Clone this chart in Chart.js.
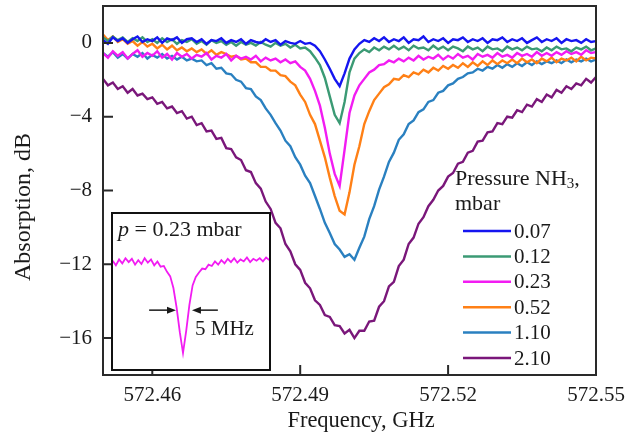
<!DOCTYPE html>
<html lang="en">
<head>
<meta charset="UTF-8">
<title>NH3 absorption line</title>
<script src="https://cdn.jsdelivr.net/npm/chart.js"></script>
<style>
  body { margin: 0; background: #fff; }
  #wrap { position: relative; width: 637px; height: 437px; }
  #inset { position: absolute; left: 111px; top: 212px; width: 156px; height: 155px;
           border: 2px solid #111; background: #fff; }
  canvas { display: block; }
</style>
</head>
<body>
<div id="wrap">
  <canvas id="mainChart" width="637" height="437"></canvas>
  <div id="inset"><canvas id="insetChart" width="156" height="155"></canvas></div>
</div>
<script>
// frequency grid, GHz
const freq = [
  572.450, 572.451, 572.452, 572.453, 572.454, 572.455, 572.456, 572.457, 572.458, 572.459,
  572.460, 572.461, 572.462, 572.463, 572.464, 572.465, 572.466, 572.467, 572.468, 572.469,
  572.470, 572.471, 572.472, 572.473, 572.474, 572.475, 572.476, 572.477, 572.478, 572.479,
  572.480, 572.481, 572.482, 572.483, 572.484, 572.485, 572.486, 572.487, 572.488, 572.489,
  572.490, 572.491, 572.492, 572.493, 572.494, 572.495, 572.496, 572.497, 572.498, 572.499,
  572.500, 572.501, 572.502, 572.503, 572.504, 572.505, 572.506, 572.507, 572.508, 572.509,
  572.510, 572.511, 572.512, 572.513, 572.514, 572.515, 572.516, 572.517, 572.518, 572.519,
  572.520, 572.521, 572.522, 572.523, 572.524, 572.525, 572.526, 572.527, 572.528, 572.529,
  572.530, 572.531, 572.532, 572.533, 572.534, 572.535, 572.536, 572.537, 572.538, 572.539,
  572.540, 572.541, 572.542, 572.543, 572.544, 572.545, 572.546, 572.547, 572.548, 572.549,
  572.550
];

// absorption, dB
const p007 = [
  0.15, -0.05, 0.3, 0.1, 0.25, 0.0, 0.2, 0.35, 0.05, 0.2,
  0.1, 0.3, 0.0, 0.25, 0.15, 0.3, 0.0, 0.2, 0.25, 0.05,
  0.2, -0.05, 0.15, 0.1, 0.25, 0.0, 0.15, 0.05, 0.2, -0.05,
  0.15, 0.05, 0.0, 0.2, 0.05, 0.15, -0.1, 0.1, 0.0, -0.05,
  0.1, -0.05, 0.0, -0.15, -0.45, -0.9, -1.4, -1.95, -2.35, -1.65,
  -0.85, -0.35, -0.05, 0.15, 0.05, 0.25, 0.1, 0.3, 0.05, 0.2,
  0.1, 0.3, 0.0, 0.2, 0.15, 0.35, 0.05, 0.2, 0.1, 0.25,
  0.0, 0.2, 0.15, 0.3, 0.05, 0.2, 0.1, 0.25, 0.0, 0.2,
  0.15, 0.3, 0.05, 0.2, 0.1, 0.25, 0.0, 0.15, 0.3, 0.05,
  0.2, 0.1, 0.25, 0.0, 0.2, 0.1, 0.15, 0.0, 0.2, 0.05,
  0.1
];
const p012 = [
  0.3, 0.1, 0.35, 0.15, 0.3, 0.05, 0.25, 0.1, 0.3, 0.05,
  0.2, 0.0, 0.25, 0.05, 0.2, -0.05, 0.15, 0.05, 0.2, -0.05,
  0.1, -0.1, 0.15, 0.0, 0.1, -0.1, 0.05, -0.15, 0.05, -0.1,
  0.0, -0.15, 0.05, -0.1, -0.2, 0.0, -0.15, -0.05, -0.25, -0.1,
  -0.3, -0.25, -0.45, -0.8, -1.2, -1.9, -2.9, -3.9, -4.35, -3.2,
  -1.6, -0.85, -0.55, -0.35, -0.5, -0.25, -0.4, -0.2, -0.35, -0.15,
  -0.35, -0.2, -0.4, -0.15, -0.3, -0.25, -0.4, -0.15, -0.35, -0.2,
  -0.4, -0.2, -0.3, -0.45, -0.2, -0.35, -0.25, -0.45, -0.2, -0.35,
  -0.3, -0.45, -0.2, -0.35, -0.25, -0.4, -0.2, -0.35, -0.3, -0.45,
  -0.25, -0.4, -0.2, -0.35, -0.3, -0.45, -0.25, -0.35, -0.2, -0.4,
  -0.3
];
const p023 = [
  -0.55, -0.8, -0.45, -0.7, -0.5, -0.85, -0.6, -0.4, -0.75, -0.55,
  -0.7, -0.45, -0.8, -0.6, -0.9, -0.55, -0.75, -0.6, -0.85, -0.65,
  -0.75, -0.55, -0.9, -0.7, -0.8, -0.6, -0.95, -0.7, -0.85, -0.75,
  -0.9, -0.7, -1.0, -0.8, -0.95, -0.85, -1.05, -0.9, -1.1, -1.0,
  -1.3, -1.5, -1.95, -2.6, -3.4, -4.6, -6.0, -7.1, -7.75, -5.8,
  -3.8, -2.85, -2.3, -1.95, -1.6, -1.45, -1.2, -1.15, -0.95, -1.05,
  -0.85, -1.0, -0.8, -0.95, -0.7, -0.9, -0.75, -0.85, -0.65, -0.9,
  -0.7, -0.85, -0.6, -0.8, -0.7, -0.9, -0.6, -0.75, -0.65, -0.8,
  -0.55, -0.75, -0.65, -0.8, -0.55, -0.7, -0.6, -0.75, -0.5, -0.7,
  -0.55, -0.7, -0.5, -0.65, -0.45, -0.6, -0.5, -0.65, -0.4, -0.55,
  -0.5
];
const p052 = [
  0.45, 0.15, 0.35, 0.05, 0.2, -0.05, 0.1, -0.15, 0.05, -0.2,
  -0.05, -0.3, -0.1, -0.35, -0.15, -0.4, -0.25, -0.45, -0.3, -0.5,
  -0.35, -0.6, -0.4, -0.65, -0.5, -0.6, -0.75, -0.7, -0.9, -0.85,
  -1.05, -1.05, -1.3, -1.3, -1.5, -1.5, -1.75, -1.8, -2.1, -2.3,
  -2.8, -3.2, -3.9, -4.4, -5.3, -6.2, -7.3, -8.3, -9.1, -9.3,
  -8.1, -6.6, -5.6, -4.4, -3.7, -3.1, -2.75, -2.4, -2.25, -1.95,
  -2.0, -1.75, -1.85, -1.6, -1.7, -1.45, -1.6, -1.35, -1.5, -1.25,
  -1.4, -1.2, -1.35, -1.1, -1.3, -1.05, -1.25, -1.0, -1.2, -0.95,
  -1.15, -0.95, -1.1, -0.9, -1.1, -0.85, -1.05, -0.9, -1.1, -0.85,
  -1.0, -0.8, -1.05, -0.85, -0.95, -0.8, -1.0, -0.75, -0.95, -0.8,
  -0.85
];
const p110 = [
  -0.55, -0.75, -0.5, -0.8, -0.6, -0.85, -0.6, -0.75, -0.55, -0.85,
  -0.65, -0.8, -0.6, -0.85, -0.7, -0.9, -0.75, -0.95, -0.85, -1.0,
  -0.95, -1.2, -1.1, -1.4, -1.35, -1.65, -1.7, -2.0, -2.1, -2.45,
  -2.5, -2.9, -3.1, -3.55, -3.9, -4.35, -4.75, -5.3, -5.6, -6.2,
  -6.6, -7.2, -7.6, -8.3, -9.0, -9.75, -10.3, -10.9, -11.2, -11.6,
  -11.45, -11.75, -11.1, -10.5, -9.55, -8.85, -7.95, -7.25, -6.45, -5.95,
  -5.25, -4.95, -4.4, -4.2, -3.75, -3.6, -3.2, -3.1, -2.7, -2.6,
  -2.3, -2.2, -1.95, -1.85, -1.65, -1.6, -1.4, -1.5, -1.3, -1.4,
  -1.2, -1.35, -1.15, -1.3, -1.1, -1.25, -1.05, -1.2, -1.0, -1.15,
  -1.0, -1.1, -0.95, -1.1, -0.9, -1.05, -0.9, -1.0, -0.85, -1.0,
  -0.9
];
const p210 = [
  -1.95, -2.3, -2.15, -2.5, -2.35, -2.7, -2.5, -2.85, -2.75, -3.05,
  -2.95, -3.3, -3.2, -3.55, -3.45, -3.8, -3.7, -4.1, -4.0, -4.45,
  -4.35, -4.8, -4.75, -5.2, -5.15, -5.7, -5.75, -6.2, -6.35, -6.9,
  -7.0, -7.6, -7.9, -8.6, -9.0, -9.75, -10.05, -10.9, -11.3, -12.0,
  -12.3, -13.0, -13.3, -13.95, -14.2, -14.75, -14.85, -15.3, -15.35, -15.75,
  -15.55, -16.0, -15.6, -15.6, -15.1, -15.05, -14.3, -14.0, -13.2, -12.95,
  -12.1, -11.75, -10.9, -10.55, -9.8, -9.45, -8.85, -8.5, -8.0, -7.75,
  -7.25, -7.05, -6.55, -6.45, -5.95, -5.85, -5.35, -5.3, -4.85, -4.8,
  -4.35, -4.4, -4.0, -4.05, -3.65, -3.75, -3.35, -3.45, -3.05, -3.2,
  -2.8, -2.95, -2.55, -2.7, -2.35, -2.5, -2.2, -2.3, -1.95, -2.15,
  -1.85
];

const pressures = ['0.07', '0.12', '0.23', '0.52', '1.10', '2.10'];
const series = [p007, p012, p023, p052, p110, p210];
const colors = ['#1515f0', '#3b9a74', '#f21cf2', '#ff8016', '#2a80c0', '#7a177a'];

const xTicks = [572.46, 572.49, 572.52, 572.55];
const yTicks = [0, -4, -8, -12, -16];

// inset: detuning in MHz and absorption at p = 0.23 mbar
const insetMHz = [
  -22, -21, -20, -19, -18, -17, -16, -15, -14, -13, -12, -11, -10, -9, -8, -7, -6, -5, -4, -3, -2, -1,
  0, 1, 2, 3, 4, 5, 6, 7, 8, 9, 10, 11, 12, 13, 14, 15, 16, 17, 18, 19, 20, 21, 22, 23, 24, 25, 26, 27
];
const insetAbs = [
  0.1, -0.25, 0.2, -0.1, 0.3, 0.0, 0.25, -0.2, 0.15, -0.15, 0.3, -0.05, 0.2, -0.25, 0.05, -0.35, -0.3, -0.75, -1.1, -2.0, -3.5, -5.4,
  -7.0, -5.3, -3.3, -1.8, -1.15, -0.8, -0.5, -0.55, -0.2, -0.3, 0.05, -0.2, 0.15, -0.1, 0.25, 0.0, 0.3, -0.05, 0.2, 0.05, 0.35, 0.0, 0.25, 0.1, 0.3, 0.05, 0.35, 0.15
];

const serif = '"Liberation Serif", "DejaVu Serif", serif';
const ink = '#1a1a1a';

const framePlugin = {
  id: 'frame',
  afterDatasetsDraw(chart) {
    const { ctx, chartArea: a, scales: { x, y } } = chart;
    ctx.save();
    ctx.strokeStyle = '#2a2a2a';
    ctx.lineWidth = 2;
    ctx.strokeRect(a.left, a.top, a.right - a.left, a.bottom - a.top);
    ctx.beginPath();
    xTicks.forEach(v => {
      const px = x.getPixelForValue(v);
      ctx.moveTo(px, a.bottom);
      ctx.lineTo(px, a.bottom - 10);
    });
    yTicks.forEach(v => {
      const py = y.getPixelForValue(v);
      ctx.moveTo(a.left, py);
      ctx.lineTo(a.left + 10, py);
    });
    ctx.stroke();

    // axis titles
    ctx.fillStyle = ink;
    ctx.textAlign = 'center';
    ctx.textBaseline = 'middle';
    ctx.font = '22.5px ' + serif;
    ctx.fillText('Frequency, GHz', 361, 421);
    ctx.save();
    ctx.translate(24, 207);
    ctx.rotate(-Math.PI / 2);
    ctx.font = '24px ' + serif;
    ctx.fillText('Absorption, dB', 0, 0);
    ctx.restore();

    // legend
    ctx.textAlign = 'left';
    ctx.font = '22px ' + serif;
    let tx = 455;
    ctx.fillText('Pressure NH', tx, 179);
    tx += ctx.measureText('Pressure NH').width;
    ctx.font = '15px ' + serif;
    ctx.fillText('3', tx, 184);
    tx += ctx.measureText('3').width;
    ctx.font = '22px ' + serif;
    ctx.fillText(',', tx, 179);
    ctx.fillText('mbar', 455, 204);
    ctx.font = '21px ' + serif;
    pressures.forEach((p, k) => {
      const ly = 231 + k * 25.4;
      ctx.strokeStyle = colors[k];
      ctx.lineWidth = 2.5;
      ctx.beginPath();
      ctx.moveTo(463, ly);
      ctx.lineTo(511, ly);
      ctx.stroke();
      ctx.fillText(p, 514, ly + 1);
    });
    ctx.restore();
  }
};

new Chart(document.getElementById('mainChart'), {
  type: 'line',
  data: {
    datasets: series.map((s, k) => ({
      label: pressures[k],
      data: freq.map((f, i) => ({ x: f, y: s[i] })),
      borderColor: colors[k],
      borderWidth: 2.4,
      pointRadius: 0,
      tension: 0,
      fill: false
    }))
  },
  options: {
    responsive: false,
    animation: false,
    layout: { padding: { left: 0, right: 41, top: 6, bottom: 0 } },
    plugins: { legend: { display: false }, tooltip: { enabled: false } },
    scales: {
      x: {
        type: 'linear',
        min: 572.45,
        max: 572.55,
        afterBuildTicks: s => { s.ticks = xTicks.map(v => ({ value: v })); },
        afterFit: s => { s.height = 62; s.paddingLeft = 0; s.paddingRight = 0; },
        grid: { display: false, drawTicks: false },
        border: { display: false },
        ticks: {
          callback: v => v.toFixed(2),
          font: { family: serif, size: 21 },
          color: ink,
          padding: 8,
          maxRotation: 0,
          autoSkip: false
        }
      },
      y: {
        min: -18,
        max: 2,
        afterBuildTicks: s => { s.ticks = yTicks.map(v => ({ value: v })); },
        afterFit: s => { s.width = 103; s.paddingTop = 0; s.paddingBottom = 0; },
        grid: { display: false, drawTicks: false },
        border: { display: false },
        ticks: {
          callback: v => (v < 0 ? '\u2212' + Math.abs(v) : String(v)),
          font: { family: serif, size: 21 },
          color: ink,
          padding: 11
        }
      }
    }
  },
  plugins: [framePlugin]
});

// inset annotations
const insetPlugin = {
  id: 'insetNotes',
  afterDatasetsDraw(chart) {
    const { ctx, scales: { x, y } } = chart;
    ctx.save();
    ctx.fillStyle = ink;
    ctx.textBaseline = 'middle';
    ctx.font = 'italic 22px ' + serif;
    ctx.fillText('p', 5, 16);
    const pw = ctx.measureText('p ').width;
    ctx.font = '22px ' + serif;
    ctx.fillText('= 0.23 mbar', 5 + pw, 16);
    ctx.font = '21px ' + serif;
    ctx.fillText('5 MHz', 82, 115);

    const ay = y.getPixelForValue(-3.7);
    const arrows = [[-10.6, -2.2], [10.9, 2.8]];
    ctx.strokeStyle = ink;
    ctx.lineWidth = 1.5;
    arrows.forEach(([from, to]) => {
      const x0 = x.getPixelForValue(from);
      const x1 = x.getPixelForValue(to);
      const dir = Math.sign(x1 - x0);
      ctx.beginPath();
      ctx.moveTo(x0, ay);
      ctx.lineTo(x1 - dir * 6, ay);
      ctx.stroke();
      ctx.beginPath();
      ctx.moveTo(x1, ay);
      ctx.lineTo(x1 - dir * 9, ay - 3.5);
      ctx.lineTo(x1 - dir * 9, ay + 3.5);
      ctx.closePath();
      ctx.fill();
    });
    ctx.restore();
  }
};

new Chart(document.getElementById('insetChart'), {
  type: 'line',
  data: {
    datasets: [{
      data: insetMHz.map((m, i) => ({ x: m, y: insetAbs[i] })),
      borderColor: '#f21cf2',
      borderWidth: 1.8,
      pointRadius: 0,
      tension: 0,
      fill: false
    }]
  },
  options: {
    responsive: false,
    animation: false,
    layout: { padding: 0 },
    plugins: { legend: { display: false }, tooltip: { enabled: false } },
    scales: {
      x: { type: 'linear', min: -21.9, max: 26.9, display: false },
      y: { min: -8.23, max: 3.7, display: false }
    }
  },
  plugins: [insetPlugin]
});
</script>
</body>
</html>
